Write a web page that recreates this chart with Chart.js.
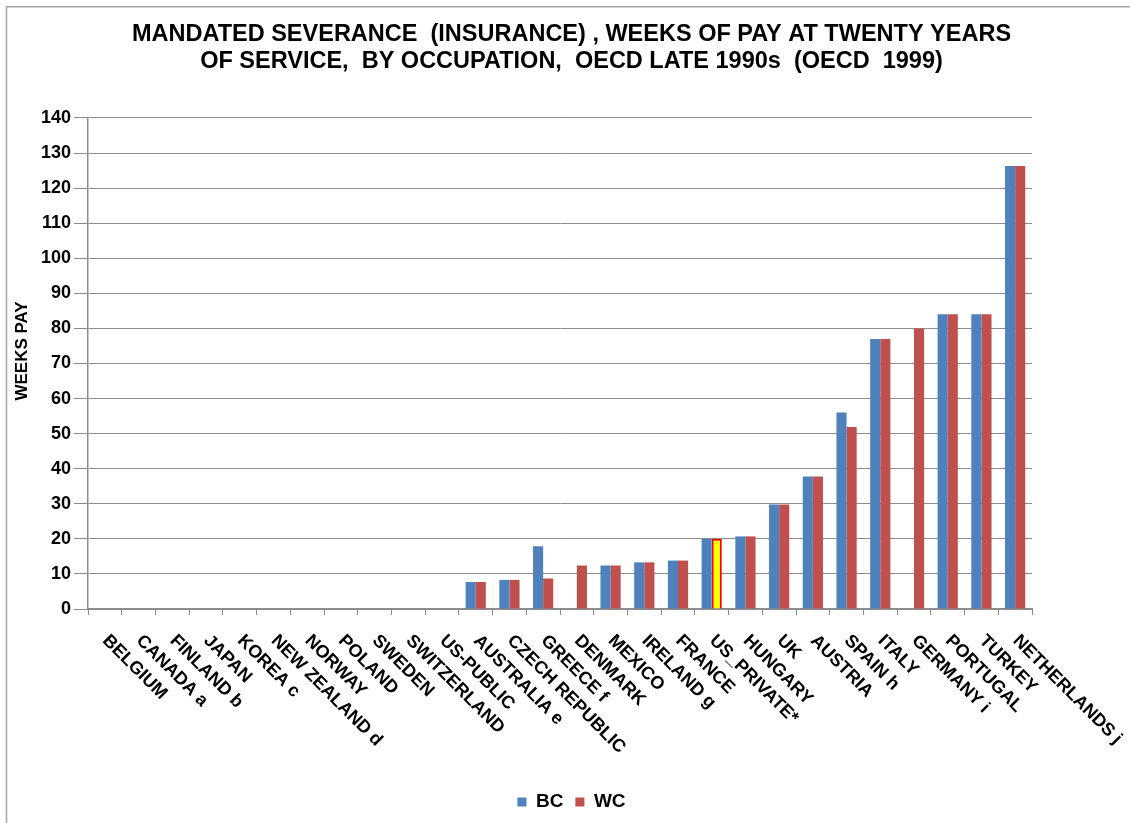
<!DOCTYPE html>
<html>
<head>
<meta charset="utf-8">
<script src="https://cdn.jsdelivr.net/npm/chart.js@4.4.1/dist/chart.umd.min.js"></script>
<style>
  html, body { margin: 0; padding: 0; background: #ffffff; }
  #wrap { width: 1130px; height: 823px; position: relative; }
</style>
</head>
<body>
<div id="wrap"><canvas id="c" width="1130" height="823"></canvas></div>
<script>
// ---------- DATA ----------
const categories = [
  'BELGIUM', 'CANADA a', 'FINLAND b', 'JAPAN', 'KOREA c', 'NEW ZEALAND d', 'NORWAY',
  'POLAND', 'SWEDEN', 'SWITZERLAND', 'US-PUBLIC', 'AUSTRALIA e', 'CZECH REPUBLIC',
  'GREECE f', 'DENMARK', 'MEXICO', 'IRELAND g', 'FRANCE', 'US_PRIVATE*', 'HUNGARY',
  'UK', 'AUSTRIA', 'SPAIN h', 'ITALY', 'GERMANY i', 'PORTUGAL', 'TURKEY', 'NETHERLANDS j'
];
const bcValues = [0, 0, 0, 0, 0, 0, 0, 0, 0, 0, 0, 7.7, 8.3, 17.9, null, 12.4, 13.3, 13.8, 20, 20.7, 29.8, 37.8, 56, 77, null, 84, 84, 126.3];
const wcValues = [0, 0, 0, 0, 0, 0, 0, 0, 0, 0, 0, 7.7, 8.3, 8.7, 12.4, 12.4, 13.3, 13.8, 20, 20.7, 29.8, 37.8, 51.9, 77, 80, 84, 84, 126.3];
const seriesNames = ['BC', 'WC'];
const highlightCategory = 'US_PRIVATE*';
const yMin = 0, yMax = 140, yStep = 10;
const titleLines = [
  'MANDATED SEVERANCE  (INSURANCE) , WEEKS OF PAY AT TWENTY YEARS',
  'OF SERVICE,  BY OCCUPATION,  OECD LATE 1990s  (OECD  1999)'
];
const yAxisTitle = 'WEEKS PAY';

// ---------- STYLE ----------
const FONT = "'Liberation Sans', Arial, sans-serif";
const BLUE = '#4F81BD';
const RED = '#C0504D';
const GRID = '#8c8c8c';
const hiIdx = categories.indexOf(highlightCategory);

const framePlugin = {
  id: 'frame',
  beforeDraw(chart) {
    const ctx = chart.ctx;
    ctx.save();
    ctx.fillStyle = '#ffffff';
    ctx.fillRect(0, 0, chart.width, chart.height);
    ctx.strokeStyle = '#a6a6a6';
    ctx.lineWidth = 1.5;
    ctx.strokeRect(6.5, 6.75, 3000, 3000);
    ctx.restore();
  }
};

const labelPlugin = {
  id: 'rotLabels',
  afterDraw(chart) {
    const ctx = chart.ctx;
    const xs = chart.scales.x;
    const base = chart.chartArea.bottom;
    ctx.save();
    ctx.fillStyle = '#000000';
    ctx.font = 'bold 18px ' + FONT;
    ctx.textAlign = 'left';
    ctx.textBaseline = 'alphabetic';
    categories.forEach((lab, i) => {
      const px = xs.getPixelForValue(i);
      ctx.save();
      ctx.translate(px - 3, base + 32.5);
      ctx.rotate(Math.PI / 4);
      ctx.fillText(lab, 0, 0);
      ctx.restore();
    });
    // y axis title
    ctx.save();
    ctx.translate(22, 351);
    ctx.rotate(-Math.PI / 2);
    ctx.textAlign = 'center';
    ctx.textBaseline = 'middle';
    ctx.font = 'bold 17px ' + FONT;
    ctx.fillText(yAxisTitle, 0, 0);
    ctx.restore();
    ctx.restore();
  }
};

new Chart(document.getElementById('c'), {
  type: 'bar',
  data: {
    labels: categories,
    datasets: [
      {
        label: seriesNames[0],
        data: bcValues,
        backgroundColor: BLUE,
        borderColor: BLUE,
        borderWidth: 0,
        categoryPercentage: 0.6,
        barPercentage: 1.0,
        yAxisID: 'y'
      },
      {
        label: seriesNames[1],
        data: wcValues,
        backgroundColor: (c) => (c.dataIndex === hiIdx ? '#FFFF00' : RED),
        borderColor: (c) => (c.dataIndex === hiIdx ? '#FF0000' : RED),
        borderWidth: (c) => (c.dataIndex === hiIdx ? 2 : 0),
        categoryPercentage: 0.6,
        barPercentage: 1.0,
        yAxisID: 'y'
      }
    ]
  },
  options: {
    responsive: false,
    animation: false,
    devicePixelRatio: 1,
    layout: { padding: { left: 13, right: 0, top: 0, bottom: 1.5 } },
    plugins: {
      title: {
        display: true,
        text: titleLines,
        color: '#000000',
        font: { family: FONT, size: 23.5, weight: 'bold', lineHeight: 1.15 },
        padding: { top: 21, bottom: 42.9 }
      },
      legend: {
        display: true,
        position: 'bottom',
        labels: {
          boxWidth: 9,
          boxHeight: 9,
          padding: 12,
          color: '#000000',
          font: { family: FONT, size: 19, weight: 'bold' }
        }
      },
      tooltip: { enabled: false }
    },
    scales: {
      x: {
        ticks: { display: false },
        grid: { display: true, drawOnChartArea: false, drawTicks: true, tickLength: 6, color: GRID, offset: true },
        border: { display: true, color: GRID, width: 2 },
        afterFit(s) { s.height = 171.5; }
      },
      y: {
        position: 'left',
        min: yMin,
        max: yMax,
        ticks: {
          stepSize: yStep,
          color: '#000000',
          padding: 3,
          font: { family: FONT, size: 18, weight: 'bold' }
        },
        grid: { color: GRID, lineWidth: 1, tickLength: 14, drawTicks: true },
        border: { display: true, color: GRID, width: 1.5 },
        afterFit(s) { s.width = 75; }
      },
      yRight: {
        position: 'right',
        display: true,
        ticks: { display: false },
        grid: { display: false },
        border: { display: false },
        afterFit(s) { s.width = 98; }
      }
    }
  },
  plugins: [framePlugin, labelPlugin]
});
</script>
</body>
</html>
